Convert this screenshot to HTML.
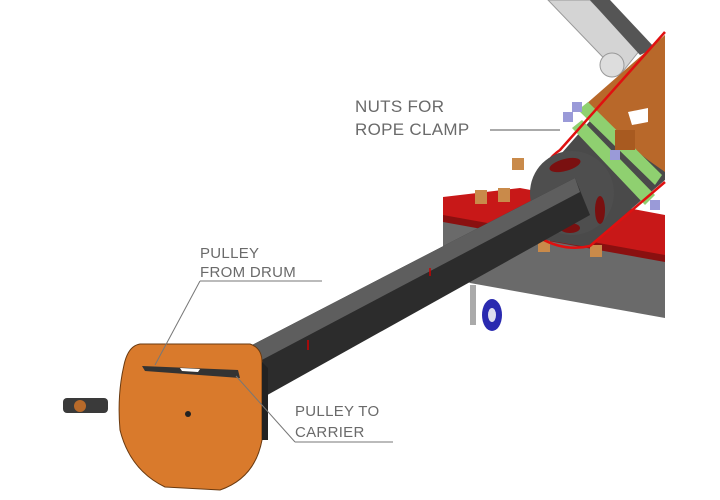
<!DOCTYPE html>
<html><head><meta charset="utf-8"><style>
html,body{margin:0;padding:0;background:#fff}
svg{display:block}
text{font-family:"Liberation Sans",sans-serif;fill:#6a6a6a;letter-spacing:0.3px}
</style></head><body>
<svg width="720" height="500" viewBox="0 0 720 500" xmlns="http://www.w3.org/2000/svg">
<rect width="720" height="500" fill="#fff"/>
<!-- top arm -->
<polygon points="548,0 590,0 640,50 620,75" fill="#d4d4d4" stroke="#999" stroke-width="1"/>
<polygon points="590,0 610,0 655,48 640,55" fill="#555"/>
<circle cx="612" cy="65" r="12" fill="#ddd" stroke="#999"/>
<!-- gray frame body -->
<polygon points="443,215 665,250 665,318 470,283 443,262" fill="#6a6a6a"/>
<!-- red top strip -->
<polygon points="443,197 520,188 665,215 665,258 443,220" fill="#c81818"/>
<polygon points="443,215 665,255 665,262 443,222" fill="#8a1010"/>
<!-- nuts -->
<rect x="475" y="190" width="12" height="14" fill="#c98a4a"/>
<rect x="498" y="188" width="12" height="14" fill="#c98a4a"/>
<rect x="512" y="158" width="12" height="12" fill="#c98a4a"/>
<rect x="538" y="240" width="12" height="12" fill="#c98a4a"/>
<rect x="590" y="245" width="12" height="12" fill="#c98a4a"/>
<!-- housing -->
<polygon points="540,178 665,35 665,180 587,247 545,240" fill="#4a4a4a"/>
<polygon points="585,105 665,35 665,172 648,160 600,122" fill="#b8682a"/>
<polygon points="628,112 648,108 648,122 632,125" fill="#fff"/>
<polygon points="578,110 588,102 662,175 655,185" fill="#8fd070"/>
<polygon points="572,128 582,120 655,195 645,205" fill="#8fd070"/>
<rect x="615" y="130" width="20" height="20" fill="#a85a20"/>
<path d="M540,180 Q545,160 560,150 L665,32" fill="none" stroke="#e01010" stroke-width="2.5"/>
<rect x="572" y="102" width="10" height="10" fill="#9a9ad8"/>
<rect x="563" y="112" width="10" height="10" fill="#9a9ad8"/>
<rect x="610" y="150" width="10" height="10" fill="#9a9ad8"/>
<rect x="650" y="200" width="10" height="10" fill="#9a9ad8"/>
<!-- pulley disk -->
<circle cx="572" cy="193" r="42" fill="#4e4e4e"/>
<ellipse cx="565" cy="165" rx="16" ry="6" fill="#7a1010" transform="rotate(-15 565 165)"/>
<ellipse cx="600" cy="210" rx="5" ry="14" fill="#7a1010"/>
<ellipse cx="570" cy="228" rx="10" ry="5" fill="#7a1010"/>
<path d="M540,238 Q565,252 590,246 L665,182" fill="none" stroke="#e01010" stroke-width="2.5"/>
<!-- wheel -->
<rect x="470" y="285" width="6" height="40" fill="#aaa"/>
<ellipse cx="492" cy="315" rx="10" ry="16" fill="#2a2ab0"/>
<ellipse cx="492" cy="315" rx="4" ry="7" fill="#dde"/>
<!-- beam -->
<polygon points="252,345 575,178 590,215 262,398" fill="#2c2c2c"/>
<polygon points="252,345 575,178 580,192 258,362" fill="#5e5e5e"/>
<line x1="430" y1="268" x2="430" y2="276" stroke="#c00" stroke-width="1.5"/>
<line x1="308" y1="340" x2="308" y2="350" stroke="#c00" stroke-width="1.5"/>
<!-- plate -->
<path d="M140,344 L250,344 Q262,348 262,362 L262,440 Q255,478 220,490 L165,487 Q130,470 120,430 Q117,395 124,365 Q128,346 140,344 Z" fill="#d97a2c" stroke="#6a3a10" stroke-width="1"/>
<path d="M262,362 L268,368 L268,440 L262,440Z" fill="#222"/>
<polygon points="142,366 238,370 240,378 145,371" fill="#333"/>
<polygon points="180,368 200,369 198,372 182,371" fill="#fff"/>
<circle cx="188" cy="414" r="3" fill="#222"/>
<!-- bolt -->
<rect x="63" y="398" width="45" height="15" rx="4" fill="#3a3a3a"/>
<circle cx="80" cy="406" r="6" fill="#b86a2a"/>
<!-- labels -->
<text x="355" y="112" font-size="17">NUTS FOR</text>
<text x="355" y="135" font-size="17">ROPE CLAMP</text>
<line x1="490" y1="130" x2="560" y2="130" stroke="#777" stroke-width="1.3"/>
<text x="200" y="258" font-size="15">PULLEY</text>
<text x="200" y="277" font-size="15">FROM DRUM</text>
<line x1="200" y1="281" x2="322" y2="281" stroke="#777" stroke-width="1"/>
<line x1="200" y1="281" x2="155" y2="365" stroke="#777" stroke-width="1"/>
<text x="295" y="416" font-size="15">PULLEY TO</text>
<text x="295" y="437" font-size="15">CARRIER</text>
<line x1="295" y1="442" x2="393" y2="442" stroke="#777" stroke-width="1"/>
<line x1="295" y1="442" x2="236" y2="376" stroke="#777" stroke-width="1"/>
</svg>
</body></html>
